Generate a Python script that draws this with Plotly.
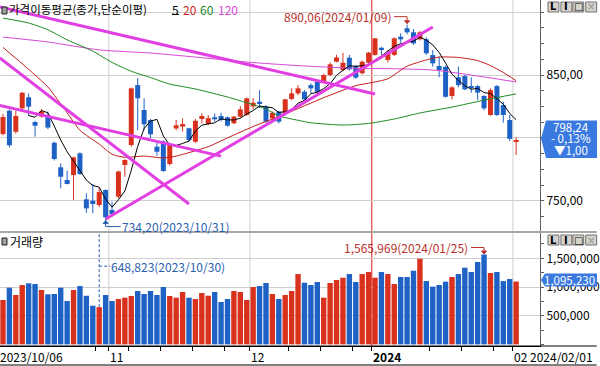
import plotly.graph_objects as go
from datetime import date

# ---------------- data ----------------
oct_days = [6, 10, 11, 12, 13, 16, 17, 18, 19, 20, 23, 24, 25, 26, 27, 30, 31]
nov_days = [1, 2, 3, 6, 7, 8, 9, 10, 13, 14, 15, 16, 17, 20, 21, 22, 23, 24, 27, 28, 29, 30]
dec_days = [1, 4, 5, 6, 7, 8, 11, 12, 13, 14, 15, 18, 19, 20, 21, 22, 26, 27, 28]
jan_days = [2, 3, 4, 5, 8, 9, 10, 11, 12, 15, 16, 17, 18, 19, 22, 23, 24, 25, 26, 29, 30, 31]
feb_days = [1]
dates = ([date(2023, 10, d) for d in oct_days] + [date(2023, 11, d) for d in nov_days] +
         [date(2023, 12, d) for d in dec_days] + [date(2024, 1, d) for d in jan_days] +
         [date(2024, 2, d) for d in feb_days])

opens = [803, 821.6, 804.9, 823.5, 832.3, 812.6, 817, 818.2, 796.1, 776.6,
         766.5, 770.4, 787.7, 751.1, 750, 746.6, 758.5, 742.6, 753.2, 778.4,
         794.3, 842, 822.2, 814.2, 793, 797, 779.2, 807.5, 809, 807.6,
         796.9, 815, 811, 816.4, 817.4, 816.4, 811.6, 816.9, 818.2, 825,
         828.8, 824.8, 815.5, 820.8, 819, 831, 835.4, 836.7, 842, 844.7,
         844.7, 850, 860.6, 854, 863.8, 857, 851.4, 859.8, 866, 871.7,
         862, 866, 880.5, 887.2, 884, 878.4, 878.4, 865.9, 857.2, 856.6,
         833.3, 848.2, 849.2, 840.8, 841.2, 833.3, 818.2, 841.2, 826.1, 814.2,
         797.3]
highs = [819, 822.7, 821.6, 836.5, 835.4, 813.5, 823, 821, 797, 779.8,
         773.9, 785, 788.5, 755.9, 763.3, 760.1, 759, 749.2, 774, 783,
         840, 847.4, 831.5, 815, 796, 798.3, 795, 814.2, 815.5, 808,
         815, 819.5, 818, 819.5, 820, 817, 817.5, 825.3, 832, 831.5,
         838, 826, 821, 821.5, 831, 839.4, 842, 838, 843.4, 845,
         851, 860, 866, 867.7, 866, 858, 861.5, 868.5, 879.5, 872.5,
         870, 880, 883.2, 890.06, 886.6, 885, 880, 869.9, 864.6, 857.5,
         841.2, 856.6, 850, 848.2, 842, 834, 839.4, 842, 828.8, 818.2,
         800.4]
lows = [802, 792.5, 803.5, 822.5, 817.4, 800.9, 816, 807, 782, 759.9,
        763, 750.6, 770.5, 740.4, 740, 745, 734.2, 737.3, 752, 769.1,
        793, 806.2, 806.2, 800, 785.6, 773, 778, 806.2, 805, 797,
        796, 811.6, 810, 812.9, 813, 809, 811, 816, 817.5, 822.7,
        823.7, 812, 814, 811.5, 818, 830, 834, 830, 835.4, 835,
        844, 849, 860, 853, 853.5, 847, 850.5, 859, 865.5, 866,
        860, 865, 875.7, 882.4, 874, 877.5, 866, 856.6, 848.2, 832,
        830.7, 840.2, 838, 836, 830, 822, 817.5, 817.5, 812, 797.5,
        786.4]
closes = [816.6, 794.1, 817.4, 835.9, 824.8, 809.7, 821, 808.2, 783.2, 769.1,
          763.3, 784.5, 771.2, 743.9, 747.4, 756.9, 736.8, 739.4, 773.2, 782.4,
          839.4, 831.5, 810.8, 802.8, 789, 773.6, 794.3, 810, 811, 798.3,
          813.6, 817.4, 815.6, 814.8, 814.2, 809.7, 816.9, 822.7, 831.5, 828,
          827.5, 812.9, 820, 812.9, 830.7, 835.4, 839.4, 830.7, 839.4, 836.7,
          850, 858.5, 864, 859.8, 854.5, 847.9, 860.6, 867.8, 879.2, 870.4,
          867.5, 879.2, 878.4, 884, 875.2, 884, 867.3, 859.3, 854, 832.7,
          840.2, 842, 838.6, 840, 836, 823.5, 838, 818.2, 818.2, 799.24,
          798.24]
volumes = [774000, 988000, 861000, 1035000, 1064000, 1052000, 948000, 873000, 878000, 988000,
           756000, 948000, 1017000, 848000, 674000, 648823, 861000, 756000, 791000, 814000,
           843000, 930000, 878000, 930000, 861000, 1000000, 843000, 814000, 913000, 814000,
           791000, 895000, 848000, 913000, 739000, 791000, 930000, 913000, 774000, 1000000,
           1017000, 1070000, 878000, 791000, 861000, 930000, 1226000, 1075000, 1035000, 1087000,
           814000, 1070000, 1122000, 1162000, 1226000, 1087000, 1226000, 1261000, 1162000, 1261000,
           1226000, 1052000, 1174000, 1174000, 1284000, 1493000, 1104000, 1006000, 1035000, 1093000,
           1174000, 1226000, 1337000, 1261000, 1436000, 1565969, 1244000, 1261000, 1104000, 1139000,
           1095230]

# moving averages (date, value)
ma20_dates = ["2023-10-06", "2023-10-12", "2023-10-16", "2023-10-18", "2023-10-23", "2023-10-25",
              "2023-10-30", "2023-11-01", "2023-11-03", "2023-11-08", "2023-11-13", "2023-11-15",
              "2023-11-22", "2023-11-27", "2023-12-01", "2023-12-08", "2023-12-18", "2023-12-26",
              "2024-01-02", "2024-01-04", "2024-01-09", "2024-01-12", "2024-01-16", "2024-01-19",
              "2024-01-24", "2024-01-26", "2024-01-30", "2024-02-01"]
ma20_vals = [872, 859, 850, 840.5, 820, 806, 795, 787, 784.5, 785.5, 784, 785.5, 793, 800,
             809, 819, 832, 841.5, 844.5, 847, 857, 862, 864.3, 864, 861.5, 857.5, 852, 845.5]
ma60_dates = ["2023-10-06", "2023-10-13", "2023-10-18", "2023-10-23", "2023-10-27", "2023-11-01",
              "2023-11-06", "2023-11-09", "2023-11-14", "2023-11-20", "2023-11-27", "2023-11-30",
              "2023-12-05", "2023-12-07", "2023-12-12", "2023-12-14", "2023-12-21", "2023-12-28",
              "2024-01-05", "2024-01-11", "2024-01-18", "2024-01-25", "2024-02-01"]
ma60_vals = [895.3, 891.4, 886, 878, 869, 860, 853, 848, 842.8, 838.9, 832.5, 828,
             823, 817.5, 814, 812, 810.2, 811.5, 815, 819.8, 824.5, 830, 835]
ma120_dates = ["2023-10-06", "2023-10-18", "2023-10-30", "2023-11-09", "2023-11-20", "2023-11-30",
               "2023-12-12", "2023-12-26", "2024-01-05", "2024-01-15", "2024-01-23", "2024-02-01"]
ma120_vals = [880.2, 876.3, 870, 867.5, 864.3, 860.3, 857.5, 855.3, 855, 854, 850, 844.5]

# user-drawn trend lines: (bar position, price) end points
trend_x = [[-0.5, 58], [-0.5, 29.0], [-0.5, 34.0], [16, 67]]
trend_y = [[904.2, 834.9], [863.6, 747.4], [825.8, 785.5], [735.4, 888.2]]

price_ticks = [750, 800, 850, 900]
price_labels_shown = [750, 850]
vol_ticks = [500000, 1000000, 1500000]

# ---------------- layout helpers ----------------
W, H = 600, 366
PW, PH = 543, 346
FONT = "Noto Sans CJK KR"
RED = "#d8321e"
BLUE = "#1f62c6"
HIRED = "#b8302a"
LOBLUE = "#2a5fb0"
MAG = "#e23fe2"


def fx(px):
    return px / PW


def fy(py):
    return 1 - py / PH


n = len(dates)
xi = list(range(n))
idx_of = {d: i for i, d in enumerate(dates)}
up = [c >= o for o, c in zip(opens, closes)]
colors = [RED if u else BLUE for u in up]

ma5 = [None] * n
for i in range(4, n):
    ma5[i] = sum(closes[i - 4:i + 1]) / 5

fig = go.Figure()

# wicks
for flag, col in ((True, RED), (False, BLUE)):
    wx, wy = [], []
    for i in range(n):
        if up[i] == flag:
            wx += [i, i, None]
            wy += [lows[i], highs[i], None]
    fig.add_trace(go.Scatter(x=wx, y=wy, mode="lines", line=dict(color=col, width=1),
                             xaxis="x", yaxis="y", hoverinfo="skip", showlegend=False))
# bodies
fig.add_trace(go.Bar(x=xi, base=[min(o, c) for o, c in zip(opens, closes)],
                     y=[max(abs(c - o), 0.8) for o, c in zip(opens, closes)],
                     width=0.78, marker=dict(color=colors, line=dict(width=0)),
                     xaxis="x", yaxis="y", showlegend=False))


def ma_trace(ds, vs, col):
    xs = [idx_of[date.fromisoformat(d)] for d in ds]
    return go.Scatter(x=xs, y=vs, mode="lines", line=dict(color=col, width=1, shape="spline", smoothing=0.6),
                      xaxis="x", yaxis="y", hoverinfo="skip", showlegend=False)


fig.add_trace(ma_trace(ma120_dates, ma120_vals, "#d848d8"))
fig.add_trace(ma_trace(ma60_dates, ma60_vals, "#1e8a1e"))
fig.add_trace(ma_trace(ma20_dates, ma20_vals, "#c41a1a"))
fig.add_trace(go.Scatter(x=xi, y=ma5, mode="lines", line=dict(color="#000000", width=1),
                         xaxis="x", yaxis="y", hoverinfo="skip", showlegend=False))
for tx, ty in zip(trend_x, trend_y):
    fig.add_trace(go.Scatter(x=tx, y=ty, mode="lines", line=dict(color=MAG, width=3),
                             xaxis="x", yaxis="y", hoverinfo="skip", showlegend=False))

# volume
fig.add_trace(go.Bar(x=xi, y=volumes, width=0.84, marker=dict(color=colors, line=dict(width=0)),
                     xaxis="x2", yaxis="y2", showlegend=False))

# ---------------- ticks on the time axis ----------------
month_starts = [i for i in range(1, n) if dates[i].month != dates[i - 1].month]
labels = [(-0.5, dates[0].strftime("%Y/%m/%d"))]
for i in month_starts:
    if dates[i].year != dates[i - 1].year:
        labels.append((i - 0.5, "<b>%d</b>" % dates[i].year))
    else:
        labels.append((i - 0.5, "%02d" % dates[i].month if dates[i].month < 10 else str(dates[i].month)))
week_starts = [i for i in range(1, n) if dates[i].isocalendar()[1] != dates[i - 1].isocalendar()[1]]
xticks = [i - 0.5 for i in month_starts]
for i in week_starts:
    p = i - 0.5
    if p in xticks:
        continue
    covered = False
    for lp, lt in labels:
        ln = len(lt.replace("<b>", "").replace("</b>", ""))
        if 0 <= p - lp <= ln * 1.1 + 0.3:
            covered = True
    if not covered:
        xticks.append(p)

xr = [-0.465, 83.72]
price_range = [725.9, 909.7]
vol_range = [-27900, 1941000]

minor_price = []
v = 750 - 12.5 * 2
while v <= price_range[1]:
    if v >= price_range[0]:
        minor_price.append(v)
    v += 12.5
minor_vol = []
v = 0
while v <= vol_range[1]:
    minor_vol.append(v)
    v += 250000

AX = "#606060"
fig.update_layout(
    width=W, height=H, margin=dict(l=0, r=W - PW, t=0, b=H - PH),
    paper_bgcolor="white", plot_bgcolor="white", barmode="overlay", showlegend=False,
    font=dict(family=FONT, size=12, color="#000000"),
    xaxis=dict(domain=[0, 1], range=xr, anchor="y", showticklabels=False, showgrid=False,
               zeroline=False, showline=False, ticks=""),
    xaxis2=dict(domain=[0, 1], range=xr, anchor="y2", matches="x", showgrid=False, zeroline=False,
                showline=True, linecolor="#000000", linewidth=1, ticks="outside", ticklen=4,
                tickcolor="#000000", tickmode="array", tickvals=xticks, showticklabels=False),
    yaxis=dict(domain=[fy(231), 1], range=price_range, anchor="x", side="right",
               tickmode="array", tickvals=price_ticks,
               ticktext=[("%.2f" % t).replace(".", ",") if t in price_labels_shown else "" for t in price_ticks],
               showgrid=True, gridcolor="#cfcfcf", gridwidth=1, zeroline=False,
               showline=True, linecolor=AX, linewidth=1, ticks="outside", ticklen=3, tickcolor=AX,
               tickfont=dict(size=12, color="#000000"),
               minor=dict(tickmode="array", tickvals=minor_price, ticks="outside", ticklen=3,
                          tickcolor=AX, showgrid=False)),
    yaxis2=dict(domain=[0, fy(233)], range=vol_range, anchor="x2", side="right",
                tickmode="array", tickvals=vol_ticks, ticktext=["{:,}".format(t) for t in vol_ticks],
                showgrid=True, gridcolor="#cfcfcf", gridwidth=1, zeroline=False,
                showline=True, linecolor=AX, linewidth=1, ticks="outside", ticklen=3, tickcolor=AX,
                tickfont=dict(size=12, color="#000000"),
                minor=dict(tickmode="array", tickvals=minor_vol, ticks="outside", ticklen=3,
                           tickcolor=AX, showgrid=False)),
)

shapes = []
annots = []

# vertical month grid lines (year boundary in red)
for i in month_starts:
    yearchange = dates[i].year != dates[i - 1].year
    shapes.append(dict(type="line", xref="x", yref="paper", x0=i - 0.5, x1=i - 0.5, y0=0, y1=1,
                       line=dict(color="#e02020" if yearchange else "#cfcfcf", width=1), layer="below"))

# panel separator and bottom border
shapes.append(dict(type="line", xref="paper", yref="paper", x0=0, x1=W / PW, y0=fy(232), y1=fy(232),
                   line=dict(color="#a8a8a8", width=2), layer="above"))
shapes.append(dict(type="line", xref="paper", yref="paper", x0=0, x1=W / PW, y0=fy(346), y1=fy(346),
                   line=dict(color="#000000", width=1), layer="above"))
shapes.append(dict(type="line", xref="paper", yref="paper", x0=0, x1=W / PW, y0=fy(365), y1=fy(365),
                   line=dict(color="#000000", width=1), layer="above"))

# time-axis labels
for p, t in labels:
    if p < xr[0]:
        annots.append(dict(xref="paper", yref="paper", x=0, y=fy(356), xanchor="left", yanchor="middle",
                           text=t, showarrow=False, xshift=-2, font=dict(size=12)))
    else:
        annots.append(dict(xref="x2", yref="paper", x=p, y=fy(356), xanchor="left", yanchor="middle",
                           text=t, showarrow=False, xshift=-1, font=dict(size=12)))
annots.append(dict(xref="paper", yref="paper", x=fx(598), y=fy(356), xanchor="right", yanchor="middle",
                   text=dates[-1].strftime("%Y/%m/%d"), showarrow=False, font=dict(size=12)))

# ---- high / low markers on price ----
hi_i = max(range(n), key=lambda i: highs[i])
lo_i = min(range(n), key=lambda i: lows[i])
hi, lo = highs[hi_i], lows[lo_i]


def pxshape(xref, yref, xa, ya, **kw):
    d = dict(xref=xref, yref=yref, xsizemode="pixel", ysizemode="pixel", xanchor=xa, yanchor=ya, layer="above")
    d.update(kw)
    return d


shapes.append(pxshape("x", "y", hi_i, hi, type="path", path="M -13,8 L 0,8 L 0,4",
                      line=dict(color=HIRED, width=1)))
shapes.append(pxshape("x", "y", hi_i, hi, type="path", path="M -2.5,4 L 2.5,4 L 0,1 Z",
                      line=dict(color=HIRED, width=1), fillcolor=HIRED))
annots.append(dict(xref="x", yref="y", x=hi_i, y=hi, xanchor="right", yanchor="middle", xshift=-14, yshift=8,
                   text=("%.2f" % hi).replace(".", ",") + dates[hi_i].strftime("(%Y/%m/%d)"),
                   showarrow=False, font=dict(size=12, color=HIRED)))

shapes.append(pxshape("x", "y", lo_i, lo, type="path", path="M 15,-6 L 0,-6 L 0,-3",
                      line=dict(color=LOBLUE, width=1)))
shapes.append(pxshape("x", "y", lo_i, lo, type="path", path="M -2.5,-3 L 2.5,-3 L 0,0 Z",
                      line=dict(color=LOBLUE, width=1), fillcolor=LOBLUE))
annots.append(dict(xref="x", yref="y", x=lo_i, y=lo, xanchor="left", yanchor="middle", xshift=14, yshift=-6,
                   text=("%.2f" % lo).replace(".", ",") + dates[lo_i].strftime("(%Y/%m/%d)"),
                   showarrow=False, font=dict(size=12, color=LOBLUE)))

# ---- volume max / min markers ----
vmax_i = max(range(n), key=lambda i: volumes[i])
vmin_i = min(range(n), key=lambda i: volumes[i])
vmax, vmin = volumes[vmax_i], volumes[vmin_i]
shapes.append(pxshape("x2", "y2", vmax_i, vmax, type="path", path="M -13,7 L 0,7 L 0,3.5",
                      line=dict(color=HIRED, width=1)))
shapes.append(pxshape("x2", "y2", vmax_i, vmax, type="path", path="M -2.5,3.5 L 2.5,3.5 L 0,0.5 Z",
                      line=dict(color=HIRED, width=1), fillcolor=HIRED))
annots.append(dict(xref="x2", yref="y2", x=vmax_i, y=vmax, xanchor="right", yanchor="middle", xshift=-14,
                   yshift=7, text="{:,}".format(vmax) + dates[vmax_i].strftime("(%Y/%m/%d)"),
                   showarrow=False, font=dict(size=12, color=HIRED)))

shapes.append(dict(type="line", xref="x2", yref="y2", x0=vmin_i, x1=vmin_i, y0=vmin, y1=vol_range[1],
                   line=dict(color=LOBLUE, width=1, dash="3px,2px"), layer="above"))
shapes.append(pxshape("x2", "y2", vmin_i, vmin, type="line", x0=0, x1=11, y0=41, y1=41,
                      line=dict(color=LOBLUE, width=1, dash="3px,2px")))
annots.append(dict(xref="x2", yref="y2", x=vmin_i, y=vmin, xanchor="left", yanchor="middle", xshift=10,
                   yshift=41, text="{:,}".format(vmin) + dates[vmin_i].strftime("(%Y/%m/%d)"),
                   showarrow=False, font=dict(size=12, color=LOBLUE)))

# ---- current price box ----
BOX = "#3a7ae0"
last = closes[-1]
chg = closes[-1] - closes[-2]
pct = chg / closes[-2] * 100
shapes.append(pxshape("paper", "y", 1, last, type="path",
                      path="M 1,1.5 L 6,19.5 L 57,19.5 L 57,-18 L 6,-18 Z",
                      line=dict(width=0), fillcolor=BOX))
box_lines = [("%.2f" % last).replace(".", ","),
             ("- " if chg < 0 else "+ ") + ("%.2f%%" % abs(pct)).replace(".", ","),
             ("▼" if chg < 0 else "▲") + ("%.2f" % abs(chg)).replace(".", ",")]
for t, s in zip(box_lines, [13.4, 2.1, -9.9]):
    annots.append(dict(xref="paper", yref="y", x=fx(574), y=last, xanchor="center", yanchor="middle",
                       yshift=s, text=t, showarrow=False, font=dict(size=11.5, color="white")))

lastv = volumes[-1]
shapes.append(pxshape("paper", "y2", 1, lastv, type="path",
                      path="M 1,1.5 L 5,8 L 57,8 L 57,-5 L 5,-5 Z",
                      line=dict(width=0), fillcolor=BOX))
annots.append(dict(xref="paper", yref="y2", x=fx(573), y=lastv, xanchor="center", yanchor="middle",
                   yshift=1.5, text="{:,}".format(lastv), showarrow=False, font=dict(size=11.5, color="white")))

# ---- panel titles ----
for top in (7, 238):
    shapes.append(dict(type="rect", xref="paper", yref="paper", x0=fx(2), x1=fx(7), y0=fy(top), y1=fy(top + 7),
                       line=dict(color="#202020", width=1), fillcolor="#a0a0a0", layer="above"))
annots.append(dict(xref="paper", yref="paper", x=fx(7), y=fy(9), xanchor="left", yanchor="middle",
                   text="가격이동평균(종가,단순이평)", showarrow=False, font=dict(size=11.5, color="#000000")))
for t, x0, c in (("5", 171, "#000000"), ("20", 182, "#d02020"), ("60", 199, "#1e8a1e"), ("120", 217, "#d848d8")):
    annots.append(dict(xref="paper", yref="paper", x=fx(x0), y=fy(9), xanchor="left", yanchor="middle",
                       text=t, showarrow=False, font=dict(size=12, color=c)))
shapes.append(dict(type="line", xref="paper", yref="paper", x0=fx(173), x1=fx(180), y0=fy(14.5), y1=fy(14.5),
                   line=dict(color="#000000", width=1), layer="above"))
annots.append(dict(xref="paper", yref="paper", x=fx(8), y=fy(241), xanchor="left", yanchor="middle",
                   text="거래량", showarrow=False, font=dict(size=12, color="#000000")))

# ---- small window buttons ----
for top in (2, 235):
    for k, (x0, g, gc) in enumerate(((551, "L", "#000"), (564, "I", "#000"), (576, "□", "#000"), (589, "×", "#a0a0a0"))):
        shapes.append(dict(type="rect", xref="paper", yref="paper", x0=fx(x0), x1=fx(x0 + 11),
                           y0=fy(top), y1=fy(top + 10), line=dict(color="#707070", width=1),
                           fillcolor="#d6d3cc", layer="above"))
        annots.append(dict(xref="paper", yref="paper", x=fx(x0 + 5.5), y=fy(top + 5), xanchor="center",
                           yanchor="middle", text="<b>%s</b>" % g, showarrow=False,
                           font=dict(size=10, color=gc, family="DejaVu Sans")))

fig.update_layout(shapes=shapes, annotations=annots)
fig.write_html("out.html", config={"displayModeBar": False},
               post_script="document.body.style.margin='0px';document.body.style.overflow='hidden';")
